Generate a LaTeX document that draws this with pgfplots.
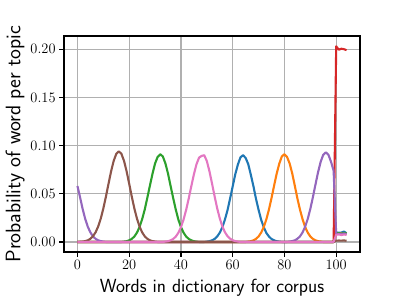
\documentclass[border=0pt]{standalone}
\usepackage{pgfplots}
\pgfplotsset{compat=1.18}
\definecolor{C0}{HTML}{1F77B4}
\definecolor{C1}{HTML}{FF7F0E}
\definecolor{C2}{HTML}{2CA02C}
\definecolor{C3}{HTML}{D62728}
\definecolor{C4}{HTML}{9467BD}
\definecolor{C5}{HTML}{8C564B}
\definecolor{C6}{HTML}{E377C2}
\begin{document}
\begin{tikzpicture}
\begin{axis}[
  name=ax,
  scale only axis,
  width=296pt, height=216pt,
  xmin=-5.2, xmax=109.2,
  ymin=-0.0104, ymax=0.2137,
  xtick={0,20,40,60,80,100},
  ytick={0,0.05,0.10,0.15,0.20},
  yticklabel style={/pgf/number format/fixed,/pgf/number format/fixed zerofill,/pgf/number format/precision=2},
  scaled y ticks=false,
  ticklabel style={font=\fontsize{13.9}{16}\selectfont},
  tick align=outside,
  xtick pos=lower, ytick pos=left,
  major tick length=4.9pt,
  every tick/.style={black, line width=1.1pt},
  axis line style={black, line width=1.1pt},
  grid=major,
  major grid style={color=black!31, line width=1.1pt},
  xlabel={\fontsize{19}{22}\sffamily Words in dictionary for corpus},
  xlabel style={yshift=-3pt},
  ylabel={\fontsize{21}{24}\sffamily Probability of word per topic},
  ylabel style={yshift=-1pt},
  every axis plot/.append style={line width=2.1pt, line join=round},
]
\addplot[C0] coordinates {(0,0) (49,0) (50,0.0004) (51,0.0008) (52,0.0017) (53,0.0031) (54,0.0057) (55,0.0096) (56,0.0152) (57,0.0233) (58,0.0330) (59,0.0452) (60,0.0577) (61,0.0703) (62,0.0803) (63,0.0878) (64,0.0900) (65,0.0872) (66,0.0808) (67,0.0698) (68,0.0580) (69,0.0448) (70,0.0334) (71,0.0230) (72,0.0154) (73,0.0094) (74,0.0057) (75,0.0031) (76,0.0017) (77,0.0008) (78,0.0004) (79,0) (99,0) (100,0.0100) (101,0.0095) (102,0.0098) (103,0.0108) (104,0.0090)};
\addplot[C1] coordinates {(0,0) (65,0) (66,0.0004) (67,0.0008) (68,0.0017) (69,0.0032) (70,0.0057) (71,0.0097) (72,0.0155) (73,0.0234) (74,0.0336) (75,0.0455) (76,0.0584) (77,0.0709) (78,0.0812) (79,0.0888) (80,0.0910) (81,0.0882) (82,0.0815) (83,0.0712) (84,0.0584) (85,0.0452) (86,0.0336) (87,0.0236) (88,0.0155) (89,0.0097) (90,0.0057) (91,0.0032) (92,0.0017) (93,0.0008) (94,0.0004) (95,0) (99,0) (100,0.0085) (101,0.0090) (102,0.0088) (103,0.0092) (104,0.0087)};
\addplot[C2] coordinates {(0,0) (17,0) (18,0.0004) (19,0.0008) (20,0.0017) (21,0.0032) (22,0.0057) (23,0.0097) (24,0.0155) (25,0.0236) (26,0.0336) (27,0.0458) (28,0.0584) (29,0.0707) (30,0.0815) (31,0.0883) (32,0.0910) (33,0.0887) (34,0.0815) (35,0.0709) (36,0.0581) (37,0.0455) (38,0.0336) (39,0.0232) (40,0.0155) (41,0.0097) (42,0.0057) (43,0.0032) (44,0.0017) (45,0.0008) (46,0.0004) (47,0) (99,0) (100,0.0090) (101,0.0092) (102,0.0085) (103,0.0095) (104,0.0088)};
\addplot[C3] coordinates {(0,0) (99,0) (100,0.2030) (101,0.1995) (102,0.2005) (103,0.2000) (104,0.1990)};
\addplot[C4] coordinates {(0,0.0580) (1,0.0465) (2,0.0343) (3,0.0239) (4,0.0158) (5,0.0099) (6,0.0058) (7,0.0033) (8,0.0017) (9,0.0009) (10,0.0004) (11,0) (81,0) (82,0.0004) (83,0.0009) (84,0.0017) (85,0.0033) (86,0.0058) (87,0.0099) (88,0.0158) (89,0.0239) (90,0.0343) (91,0.0465) (92,0.0597) (93,0.0725) (94,0.0832) (95,0.0905) (96,0.0930) (97,0.0905) (98,0.0832) (99,0.0740) (100,0.0080) (101,0.0085) (102,0.0082) (103,0.0088) (104,0.0080)};
\addplot[C5] coordinates {(0,0) (1,0.0002) (2,0.0004) (3,0.0009) (4,0.0017) (5,0.0033) (6,0.0059) (7,0.0100) (8,0.0160) (9,0.0242) (10,0.0347) (11,0.0470) (12,0.0603) (13,0.0733) (14,0.0841) (15,0.0914) (16,0.0940) (17,0.0914) (18,0.0841) (19,0.0733) (20,0.0603) (21,0.0470) (22,0.0347) (23,0.0242) (24,0.0160) (25,0.0100) (26,0.0059) (27,0.0033) (28,0.0017) (29,0.0009) (30,0.0004) (31,0) (99,0) (100,0.0013) (101,0.0015) (102,0.0014) (103,0.0016) (104,0.0012)};
\addplot[C6] coordinates {(0,0) (33,0) (34,0.0004) (35,0.0008) (36,0.0017) (37,0.0031) (38,0.0056) (39,0.0095) (40,0.0153) (41,0.0232) (42,0.0332) (43,0.0450) (44,0.0578) (45,0.0701) (46,0.0806) (47,0.0875) (48,0.0893) (49,0.0900) (50,0.0840) (51,0.0735) (52,0.0608) (53,0.0474) (54,0.0350) (55,0.0245) (56,0.0162) (57,0.0101) (58,0.0060) (59,0.0034) (60,0.0018) (61,0.0009) (62,0.0004) (63,0) (99,0) (100,0.0075) (101,0.0078) (102,0.0072) (103,0.0077) (104,0.0074)};
\end{axis}
\path ([xshift=-64pt,yshift=-48pt]ax.south west) rectangle ([xshift=40pt,yshift=36pt]ax.north east);
\end{tikzpicture}
\end{document}
